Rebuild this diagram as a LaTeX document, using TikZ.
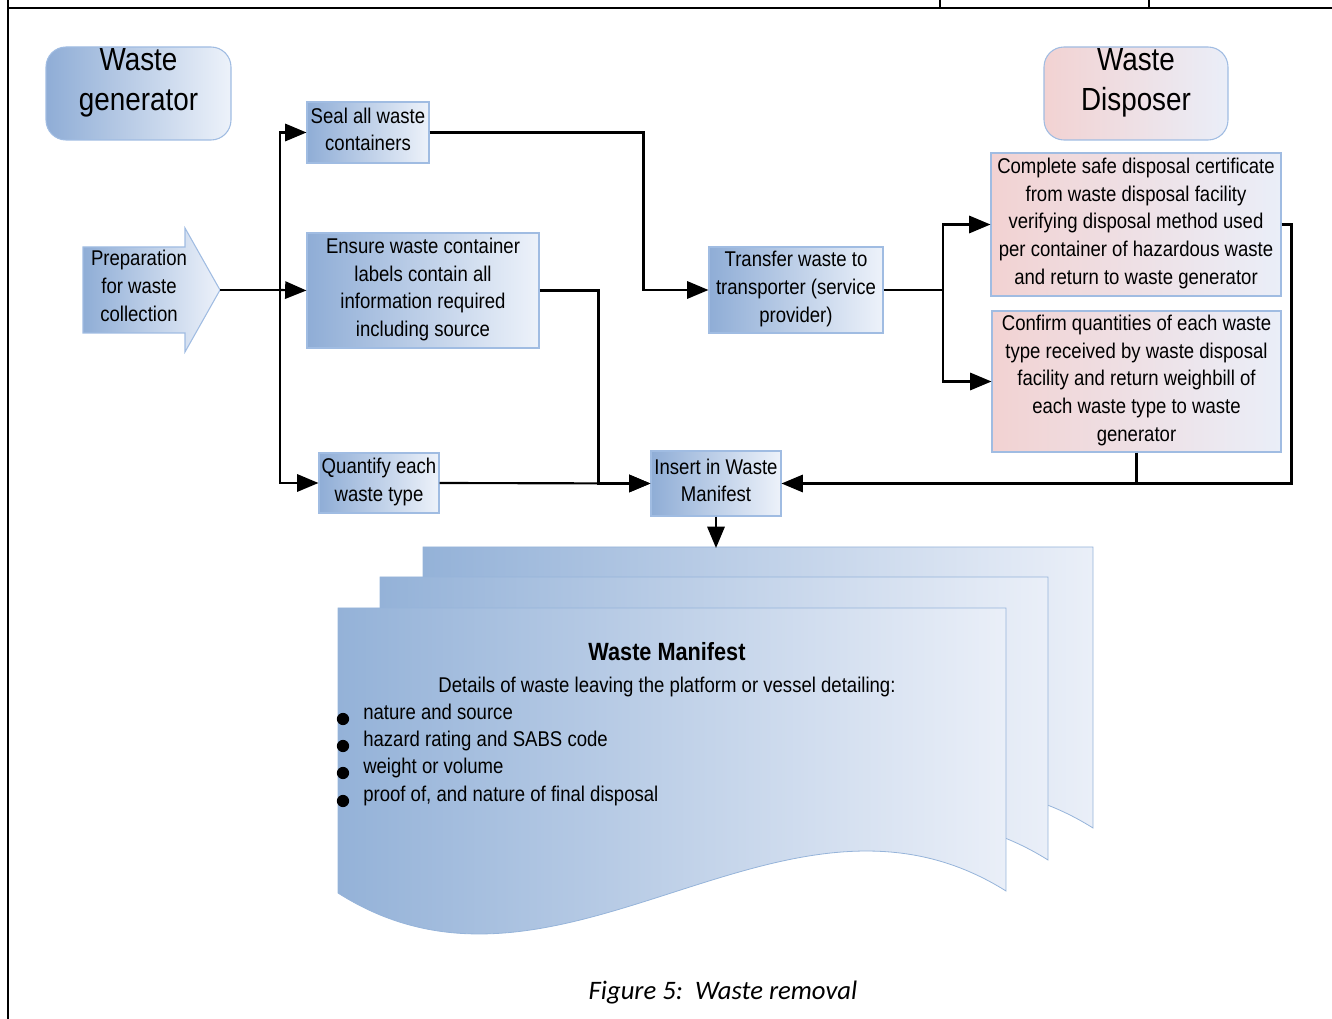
\documentclass[tikz,border=0pt]{standalone}
\usepackage{fontspec}
\setmainfont[FakeStretch=0.87]{Liberation Sans}
\newfontfamily\captionfont{Carlito}
\usetikzlibrary{arrows.meta,calc}

\definecolor{boxblue}{RGB}{143,173,214}
\definecolor{boxlight}{RGB}{237,242,250}
\definecolor{boxedge}{RGB}{160,188,226}
\definecolor{boxpink}{RGB}{242,210,210}
\definecolor{pinklight}{RGB}{234,238,248}
\definecolor{pageblue}{RGB}{148,178,216}
\definecolor{pagelight}{RGB}{234,239,248}
\definecolor{pageedge}{RGB}{150,180,218}

\tikzset{
  box/.style={draw=boxedge, line width=0.8pt, left color=boxblue, right color=boxlight,
    align=center, inner sep=0pt, text depth=5pt, font=\fontsize{16}{20.8}\selectfont},
  pinkbox/.style={box, left color=boxpink, right color=pinklight},
  titletext/.style={align=center, inner sep=0pt, font=\fontsize{24}{30}\selectfont},
  bodytext/.style={align=center, inner sep=0pt, font=\fontsize{16}{20.8}\selectfont},
  conn/.style={line width=1.6pt, black},
  arr/.style={conn, -{Triangle[length=16pt,width=13pt]}},
  page/.style={draw=pageedge, line width=0.6pt, left color=pageblue, right color=pagelight},
  item/.style={inner sep=0pt, font=\fontsize{16}{20.8}\selectfont},
}

\begin{document}
\begin{tikzpicture}[x=0.75pt, y={(0,-0.75pt)}]
\useasboundingbox (0,0) rectangle (1332,1019);

% page frame
\draw[line width=1.8pt] (8,8) -- (1332,8);
\draw[line width=1.4pt] (8,0) -- (8,1019);
\draw[line width=1.4pt] (940,0) -- (940,8);
\draw[line width=1.4pt] (1149,0) -- (1149,8);

% lane headers
\node[box, rounded corners=15pt, minimum width=138.75pt, minimum height=69.75pt] (gen) at (138.5,93.5) {};
\node[titletext] (gentext) at (138.5,83) {Waste\\generator};
\node[pinkbox, rounded corners=15pt, minimum width=138pt, minimum height=69.75pt] (disp) at (1136,93.5) {};
\node[titletext] (disptext) at (1136,83) {Waste\\Disposer};

% preparation arrow
\path[draw=boxedge, line width=0.8pt, left color=boxblue, right color=boxlight]
  (83,247) -- (185,247) -- (185,228) -- (220,290) -- (185,352) -- (185,333) -- (83,333) -- cycle;
\node[bodytext] (prep) at (139,286) {Preparation\\for waste\\collection};
\coordinate (preptip) at (220,290);

% process steps
\node[box, minimum width=91.5pt, minimum height=45.75pt] (seal) at (368,132.5) {Seal all waste\\containers};
\node[box, minimum width=174pt, minimum height=86.25pt] (ensure) at (423,290.5) {Ensure waste container\\labels contain all\\information required\\including source};
\node[box, minimum width=90pt, minimum height=45pt] (quant) at (379,483) {Quantify each\\waste type};
\node[box, minimum width=130.5pt, minimum height=64.5pt] (transfer) at (796,290) {Transfer waste to\\transporter (service\\provider)};
\node[box, minimum width=97.5pt, minimum height=48.75pt] (insert) at (716,483.5) {Insert in Waste\\Manifest};
\node[pinkbox, minimum width=217.5pt, minimum height=107.25pt] (complete) at (1136,224.5) {Complete safe disposal certificate\\from waste disposal facility\\verifying disposal method used\\per container of hazardous waste\\and return to waste generator};
\node[pinkbox, minimum width=216.75pt, minimum height=105.75pt] (confirm) at (1136.5,381.5) {Confirm quantities of each waste\\type received by waste disposal\\facility and return weighbill of\\each waste type to waste\\generator};

% connectors
\coordinate (split) at (280,290);
\draw[conn] (preptip) -- (split);
\draw[arr] (split) |- (seal.west);
\draw[arr] (split) -- (ensure.west);
\draw[arr] (split) |- (quant.west);
\draw[arr] (seal.east) -- ++(214,0) |- (transfer.west);
\draw[arr] (ensure.east) -- ++(59,0) |- (insert.west);
\draw[arr] (quant.east) -- (insert.west);
\coordinate (tsplit) at (943,290);
\draw[conn] (transfer.east) -- (tsplit);
\draw[arr] (tsplit) |- (complete.west);
\draw[arr] (tsplit) |- (confirm.west);
\draw[arr] (complete.east) -- ++(10,0) |- (insert.east);
\draw[conn] (confirm.south) -- (confirm.south |- insert.east);

% waste manifest: stacked document pages
\path[page] (423,547) -- (1093,547) -- (1093,828) .. controls (870,688) and (648,972) .. (423,830) -- cycle;
\path[page] (380,577) -- (1048,577) -- (1048,860) .. controls (825,720) and (603,1004) .. (380,862) -- cycle;
\path[page] (338,608) -- (1006,608) -- (1006,891) .. controls (783,751) and (561,1035) .. (338,893) -- cycle;
\coordinate (manifest) at (716,548);
\draw[arr] (insert.south) -- (manifest);

\node[inner sep=0pt, anchor=base, font=\fontsize{18.7}{22}\selectfont\bfseries] (mtitle) at (667,661) {Waste Manifest};
\node[item, anchor=base] (mdetail) at (667,692) {Details of waste leaving the platform or vessel detailing:};
\node[item, anchor=base west] (b1) at (363,719) {nature and source};
\node[item, anchor=base west] (b2) at (363,746) {hazard rating and SABS code};
\node[item, anchor=base west] (b3) at (363,773) {weight or volume};
\node[item, anchor=base west] (b4) at (363,801) {proof of, and nature of final disposal};
\foreach \b in {b1,b2,b3,b4}
  \fill ($(\b.base west)+(-20,0)$) circle (4.6pt);

% caption
\node[inner sep=0pt, font=\captionfont\itshape\fontsize{20}{24}\selectfont] (caption) at (723,993) {Figure 5:\ \ Waste removal};
\end{tikzpicture}
\end{document}
